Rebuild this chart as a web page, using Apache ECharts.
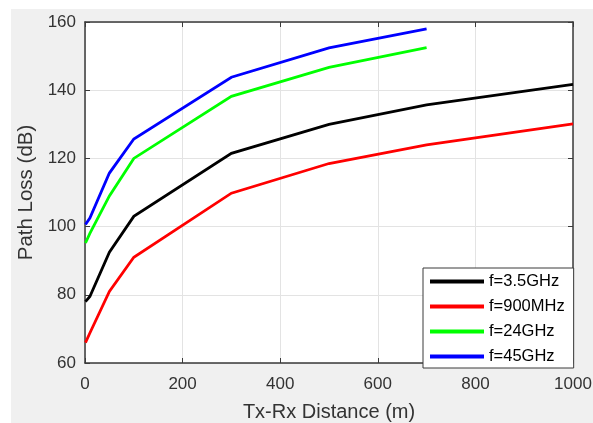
<!DOCTYPE html>
<html>
<head>
<meta charset="utf-8">
<script src="https://cdn.jsdelivr.net/npm/echarts@6/dist/echarts.min.js"></script>
<style>
  html, body { margin: 0; padding: 0; background: #ffffff; }
  #chart { width: 593px; height: 423px; }
</style>
</head>
<body>
<div id="chart"></div>
<script>
// Tx-Rx distance samples (m)
const distance = [1, 10, 50, 100, 300, 500, 700, 1000];

// Path loss (dB) per carrier frequency
const loss35GHz  = [78.0, 79.5, 92.5, 103.0, 121.5, 130.0, 135.7, 141.7];
const loss900MHz = [66.0, 68.8, 81.0, 91.0, 109.8, 118.5, 124.0, 130.1];
const loss24GHz  = [95.2, 98.0, 109.0, 120.0, 138.2, 146.7, 152.5];
const loss45GHz  = [100.6, 102.5, 115.7, 125.7, 143.8, 152.4, 158.0];

const seriesNames = ['f=3.5GHz', 'f=900MHz', 'f=24GHz', 'f=45GHz'];
const seriesData = [loss35GHz, loss900MHz, loss24GHz, loss45GHz];
const seriesColors = ['#000000', '#ff0000', '#00ff00', '#0000ff'];

const xTicks = { min: 0, max: 1000, interval: 200 };
const yTicks = { min: 60, max: 160, interval: 20 };

const axisColor = '#3a3a3a';
const textColor = '#333333';
const fontFamily = '"Liberation Sans", Arial, Helvetica, sans-serif';

function pairs(ys) {
  return ys.map((y, i) => [distance[i], y]);
}

const chart = echarts.init(document.getElementById('chart'), null, { renderer: 'canvas' });

const frameAxis = (extra) => Object.assign({
  type: 'value',
  axisLine: { show: true, onZero: false, lineStyle: { color: axisColor, width: 1.5 } },
  axisTick: { show: true, inside: true, length: 5, lineStyle: { color: axisColor, width: 1 } },
  axisLabel: { show: false },
  splitLine: { show: false }
}, extra);

chart.setOption({
  animation: false,
  backgroundColor: '#ffffff',
  graphic: [{
    type: 'rect',
    z: -10,
    shape: { x: 11, y: 9, width: 582, height: 414 },
    style: { fill: '#f0f0f0' },
    silent: true
  }],
  grid: {
    left: 85, top: 22, width: 488, height: 341,
    show: true, backgroundColor: '#ffffff', borderWidth: 0,
    containLabel: false,
    outerBoundsMode: 'none'
  },
  legend: {
    data: seriesNames,
    orient: 'vertical',
    left: 423, top: 268,
    padding: [5, 9, 3, 7],
    itemGap: 8,
    itemWidth: 54,
    itemHeight: 4,
    icon: 'rect',
    backgroundColor: '#ffffff',
    borderColor: axisColor,
    borderWidth: 1,
    borderRadius: 0,
    textStyle: { fontFamily, fontSize: 16.5, color: '#000000', lineHeight: 16, padding: [0, 0, 0, 0] }
  },
  xAxis: [
    frameAxis({
      position: 'bottom',
      min: xTicks.min, max: xTicks.max, interval: xTicks.interval,
      name: 'Tx-Rx Distance (m)',
      nameLocation: 'middle',
      nameGap: 39,
      nameTextStyle: { fontFamily, fontSize: 20, color: textColor },
      axisLabel: {
        show: true, margin: 13, fontFamily, fontSize: 17, color: textColor,
        formatter: (v) => String(v)
      },
      splitLine: { show: true, lineStyle: { color: '#e3e3e3', width: 1 } }
    }),
    frameAxis({
      position: 'top',
      min: xTicks.min, max: xTicks.max, interval: xTicks.interval
    })
  ],
  yAxis: [
    frameAxis({
      position: 'left',
      min: yTicks.min, max: yTicks.max, interval: yTicks.interval,
      name: 'Path Loss (dB)',
      nameLocation: 'middle',
      nameGap: 43,
      nameTextStyle: { fontFamily, fontSize: 20.5, color: textColor },
      axisLabel: {
        show: true, margin: 9, fontFamily, fontSize: 17, color: textColor,
        formatter: (v) => String(v)
      },
      splitLine: { show: true, lineStyle: { color: '#e3e3e3', width: 1 } }
    }),
    frameAxis({
      position: 'right',
      min: yTicks.min, max: yTicks.max, interval: yTicks.interval
    })
  ],
  series: seriesNames.map((name, i) => ({
    name,
    type: 'line',
    xAxisIndex: 0,
    yAxisIndex: 0,
    data: pairs(seriesData[i]),
    showSymbol: false,
    symbol: 'none',
    color: seriesColors[i],
    lineStyle: { color: seriesColors[i], width: 2.8, join: 'miter' },
    itemStyle: { color: seriesColors[i] }
  }))
});
</script>
</body>
</html>
